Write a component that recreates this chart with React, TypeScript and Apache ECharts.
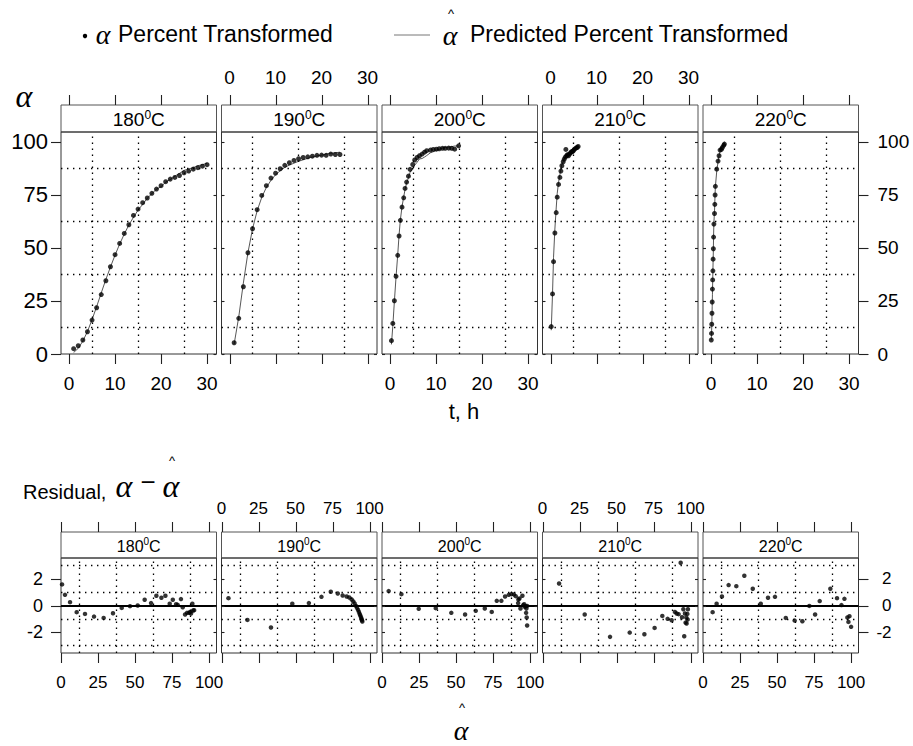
import React, { useEffect, useRef } from "react";
import * as echarts from "echarts";

// ---------------- data ----------------
const temperatures = ["180", "190", "200", "210", "220"];

const hours180 = [1, 2, 3, 4, 5, 6, 7, 8, 9, 10, 11, 12, 13, 14, 15, 16, 17, 18, 19, 20, 21, 22, 23, 24, 25, 26, 27, 28, 29, 30];
const observed180 = [2.5, 3.9, 6.6, 10.5, 16, 21.8, 28, 34.5, 41.1, 46.8, 52.1, 56.8, 60.9, 65.3, 68.3, 71.3, 73.5, 75.7, 77.7, 79.3, 81.2, 82.4, 83.2, 84.1, 85.4, 86.2, 87.1, 87.8, 88.5, 89.2];
const fitted180 = [0.7, 2.7, 6.1, 10.6, 16.2, 22.3, 28.8, 35.1, 41, 46.6, 51.8, 56.5, 60.8, 64.4, 67.8, 70.5, 73.4, 75.5, 77.7, 78.8, 81, 82.2, 83.8, 85.1, 86.5, 87.2, 87.8, 88.7, 89.2, 89.9];
const residual180 = [1.58, 0.8, 0.25, -0.5, -0.63, -0.83, -0.93, -0.58, -0.18, -0.05, 0, 0.43, 0.18, 0.73, 0.58, 0.73, 0.13, 0.43, 0.1, 0.05, 0.48, -0.13, -0.68, -0.55, -0.55, -0.48, -0.6, 0.13, -0.38, -0.35];

const hours190 = [1, 2, 3, 4, 5, 6, 7, 8, 9, 10, 11, 12, 13, 14, 15, 16, 17, 18, 19, 20, 21, 22, 23, 24];
const observed190 = [5.3, 16.8, 31.7, 47.7, 59, 68, 74.7, 79.3, 82.9, 85.2, 87.3, 88.9, 90.1, 91.2, 92, 92.6, 92.9, 93.2, 93.6, 93.7, 93.6, 94.2, 94, 94];
const fitted190 = [4.7, 17.5, 33.4, 47.8, 59, 67.5, 73.8, 78.5, 81.8, 84.5, 86.3, 87.9, 89, 89.9, 90.8, 91.5, 92.2, 92.8, 93.3, 93.7, 94.2, 94.6, 94.8, 95.1];
const residual190 = [0.55, -1.08, -1.65, 0.13, 0.18, 0.65, 1.03, 0.9, 0.75, 0.68, 0.6, 0.45, 0.3, 0.15, -0.03, -0.18, -0.33, -0.48, -0.63, -0.75, -0.88, -1.0, -1.1, -1.2];

const hours200 = [0.3, 0.6, 0.94, 1.3, 1.67, 1.96, 2.25, 2.6, 2.97, 3.26, 3.6, 4.0, 4.35, 4.93, 5.36, 5.87, 6.4, 6.96, 7.5, 7.97, 8.77, 9.4, 10.07, 10.7, 11.4, 12, 12.75, 13.4, 14.05, 14.9];
const observed200 = [6.3, 14.4, 25.1, 36.6, 46.5, 55.6, 63, 69.2, 73.6, 78, 81, 83.8, 87, 89.3, 91.4, 92.6, 93.4, 94.2, 95.1, 95.8, 96.1, 96.4, 96.5, 96.7, 96.9, 96.9, 97, 96.9, 96.5, 98.1];
const fitted200 = [4.5, 13.1, 24.8, 36.3, 46.8, 56.1, 63.3, 69.4, 74.1, 77.5, 80.6, 83.1, 85.6, 87.4, 89, 90.3, 91.9, 92.1, 92.8, 93.5, 94.8, 95.3, 96, 96.4, 97.1, 97.3, 97.5, 97.7, 98, 98];
const residual200 = [1.08, 0.85, -0.25, -0.2, -0.55, -0.68, -0.4, -0.23, -0.48, 0.35, 0.35, 0.68, 0.8, 0.85, 0.83, 0.7, 0.18, 0.45, 0.53, -0.23, 0.73, 0.03, 0.1, -0.1, -0.05, -0.55, -0.23, -0.9, -0.03, -1.5];

const hours210 = [0.15, 0.43, 0.65, 0.94, 1.23, 1.45, 1.74, 2.03, 2.25, 2.46, 2.75, 2.97, 3.2, 3.33, 3.5, 3.7, 3.9, 4.13, 4.35, 4.57, 4.78, 5.0, 5.2, 5.5, 5.8, 6.0];
const observed210 = [12.9, 28.3, 43.5, 57, 66.6, 73.9, 79.9, 83.2, 86.2, 88.7, 90.6, 91.8, 92.8, 96.4, 93.4, 93.9, 93.4, 94.2, 94.8, 95.3, 95.4, 95.9, 96.5, 97, 97.3, 97.8];
const fitted210 = [11.2, 28.5, 45.6, 58.9, 68.8, 75.7, 80.9, 84.5, 87.2, 89.4, 90.6, 91.9, 92.6, 93.3, 94.2, 94.6, 95.1, 95.5, 95.9, 96.2, 96.6, 97.0, 97.3, 97.6, 97.9, 98.2];
const resFitted210 = [11.2, 28.5, 45.6, 58.9, 68.8, 75.7, 80.9, 84.5, 87.2, 89.4, 90.6, 91.9, 93.3, 94.2, 95.1, 95.7, 96.2, 96.6, 97.1, 97.3, 97.8, 98, 98.2];
const residual210 = [1.65, -0.68, -2.35, -2.03, -2.15, -1.68, -0.78, -1.0, -1.1, -0.48, -0.6, -0.65, 3.2, -0.88, -0.28, -2.3, -0.6, -1.28, -0.9, -1.35, -0.63, -1.05, -0.28];

const hours220 = [0.05, 0.1, 0.15, 0.2, 0.25, 0.3, 0.35, 0.4, 0.45, 0.5, 0.55, 0.62, 0.75, 0.82, 0.88, 0.94, 1.23, 1.52, 1.74, 1.96, 2.25, 2.46, 2.75, 2.9];
const observed220 = [6.6, 9.7, 14, 19.2, 24.5, 30.6, 34.9, 39.2, 44.7, 49.6, 55.1, 61.2, 66.2, 70.5, 74.9, 79, 87.1, 90.9, 93.4, 96.1, 96.4, 97.3, 98.3, 98.9];
const fitted220 = [6.5, 9.2, 12.8, 17.3, 22.5, 27.9, 33.6, 39, 43.9, 48.6, 55.9, 61.9, 67.1, 71.8, 75.7, 78.8, 86, 90.5, 93.5, 95.5, 97.5, 98.2, 98.9, 100];
const residual220 = [-0.5, 0.13, 0.68, 1.53, 1.45, 2.23, 1.25, 0.13, 0.58, 0.65, -0.93, -1.13, -1.18, -0.03, -0.68, 0.33, 1.25, 0.55, 0.03, 0.5, -0.9, -1.23, -0.8, -1.6];

// axis ticks and reference grid values
const hourTicks = [0, 10, 20, 30];
const hourGrid = [5, 15, 25];
const alphaTicks = [0, 25, 50, 75, 100];
const alphaGrid = [12.5, 37.5, 62.5, 87.5];
const fittedTicks = [0, 25, 50, 75, 100];
const fittedGrid = [12.5, 37.5, 62.5, 87.5];
const residualTicks = [-2, 0, 2];
const residualGrid = [-3, -1, 1, 3];

const panels = [
  { temp: temperatures[0], hours: hours180, observed: observed180, fitted: fitted180, resFitted: fitted180, residual: residual180 },
  { temp: temperatures[1], hours: hours190, observed: observed190, fitted: fitted190, resFitted: fitted190, residual: residual190 },
  { temp: temperatures[2], hours: hours200, observed: observed200, fitted: fitted200, resFitted: fitted200, residual: residual200 },
  { temp: temperatures[3], hours: hours210, observed: observed210, fitted: fitted210, resFitted: resFitted210, residual: residual210 },
  { temp: temperatures[4], hours: hours220, observed: observed220, fitted: fitted220, resFitted: fitted220, residual: residual220 },
];

// ---------------- layout ----------------
const FONT = '"Liberation Sans", Arial, Helvetica, sans-serif';
const GREEK = '"Liberation Serif", "DejaVu Serif", serif';
const PX0 = 61;
const STEP = 160.5;
const PW = 155.5;
const TOP_Y = 132;
const TOP_H = 222;
const STRIP_H = 27;
const BOT_Y = 558;
const BOT_H = 95;
const BSTRIP_H = 26;
const TICK_COLOR = "#222";

function buildOption() {
  const grid: any[] = [];
  const xAxis: any[] = [];
  const yAxis: any[] = [];
  const series: any[] = [];
  const graphic: any[] = [];

  const dotted = { color: "#000", type: [1.4, 4.6], width: 1.3 };

  const mkX = (gi: number, pos: string, min: number, max: number, ticks: number[], showLabel: boolean, margin: number, fontSize: number, offset: number) => ({
    gridIndex: gi,
    type: "value",
    position: pos,
    offset,
    min,
    max,
    axisLine: { show: false, onZero: false },
    splitLine: { show: false },
    axisTick: { show: false },
    axisLabel: { show: showLabel, customValues: ticks, margin, fontSize, color: "#000", fontFamily: FONT },
  });

  const mkY = (gi: number, pos: string, min: number, max: number, ticks: number[], outer: boolean, label: any) => ({
    gridIndex: gi,
    type: "value",
    position: pos,
    min,
    max,
    axisLine: { show: false, onZero: false },
    splitLine: { show: false },
    axisTick: { show: false },
    axisLabel: outer
      ? Object.assign({ show: true, customValues: ticks, color: "#000", fontFamily: FONT }, label)
      : { show: false },
  });

  // tick marks drawn through the panel's own scales (custom series, unclipped)
  const tickSeries = (axisIndex: number, side: string, values: number[], xr: number[], yr: number[], len: number, shift: number) => ({
    type: "custom",
    xAxisIndex: axisIndex,
    yAxisIndex: axisIndex,
    silent: true,
    clip: false,
    z: 6,
    data: values.map((v) => (side === "bottom" || side === "top" ? [v, yr[0]] : [xr[0], v])),
    renderItem: (params: any, api: any) => {
      let x1 = 0, y1 = 0, x2 = 0, y2 = 0;
      if (side === "bottom" || side === "top") {
        const p = api.coord([api.value(0), side === "bottom" ? yr[0] : yr[1]]);
        x1 = x2 = Math.round(p[0]) + 0.5;
        if (side === "bottom") { y1 = p[1] + shift; y2 = y1 + len; }
        else { y1 = p[1] - shift; y2 = y1 - len; }
      } else {
        const p = api.coord([side === "left" ? xr[0] : xr[1], api.value(1)]);
        y1 = y2 = Math.round(p[1]) + 0.5;
        x1 = p[0];
        x2 = side === "left" ? x1 - len : x1 + len;
      }
      return { type: "line", shape: { x1, y1, x2, y2 }, style: { stroke: TICK_COLOR, lineWidth: 1.1 } };
    },
  });

  const stripText = (temp: string) => `{a|${temp}}{s|0}{a|C}`;

  // ---- top panels (grids 0..4) ----
  const TX = [-1.75, 32.05];
  const TY = [0, 104.6];
  panels.forEach((p, i) => {
    const left = PX0 + i * STEP;
    const gi = i;
    grid.push({ left, top: TOP_Y, width: PW, height: TOP_H, show: true, borderColor: "#333", borderWidth: 1, backgroundColor: "transparent" });
    xAxis.push(mkX(gi, "bottom", TX[0], TX[1], hourTicks, i % 2 === 0, 20, 19, 0));
    xAxis.push(mkX(gi, "top", TX[0], TX[1], hourTicks, i % 2 === 1, 18, 19, STRIP_H));
    yAxis.push(mkY(gi, "left", TY[0], TY[1], alphaTicks, i === 0, { margin: 13, fontSize: 22 }));
    yAxis.push(mkY(gi, "right", TY[0], TY[1], alphaTicks, i === 4, { margin: 19, fontSize: 19 }));
    series.push({
      type: "line",
      xAxisIndex: 2 * gi,
      yAxisIndex: 2 * gi,
      data: p.hours.map((t, k) => [t, p.fitted[k]]),
      symbol: "none",
      lineStyle: { color: "#444", width: 0.9 },
      silent: true,
      z: 3,
      markLine: {
        silent: true,
        symbol: ["none", "none"],
        label: { show: false },
        lineStyle: dotted,
        animation: false,
        data: [...hourGrid.map((v) => ({ xAxis: v })), ...alphaGrid.map((v) => ({ yAxis: v }))],
      },
    });
    series.push({
      type: "scatter",
      xAxisIndex: 2 * gi,
      yAxisIndex: 2 * gi,
      data: p.hours.map((t, k) => [t, p.observed[k]]),
      symbol: "circle",
      symbolSize: 5,
      itemStyle: { color: "#000" },
      silent: true,
      z: 4,
    });
    series.push(tickSeries(2 * gi, "bottom", hourTicks, TX, TY, 10, 0));
    series.push(tickSeries(2 * gi, "top", hourTicks, TX, TY, 10, STRIP_H));
    series.push(tickSeries(2 * gi, "left", alphaTicks, TX, TY, i === 0 ? 10 : -3, 0));
    series.push(tickSeries(2 * gi, "right", alphaTicks, TX, TY, i === 4 ? 10 : -3, 0));
    graphic.push({ type: "rect", shape: { x: left, y: TOP_Y - STRIP_H, width: PW, height: STRIP_H }, style: { fill: "#fff", stroke: "#555", lineWidth: 1 }, z: -1 });
    graphic.push({
      type: "text",
      x: left + PW / 2,
      y: TOP_Y - STRIP_H / 2 + 1,
      style: {
        text: stripText(p.temp),
        align: "center",
        verticalAlign: "middle",
        rich: {
          a: { fontSize: 19, fontFamily: FONT, fill: "#000", lineHeight: 22 },
          s: { fontSize: 12, fontFamily: FONT, fill: "#000", verticalAlign: "top", lineHeight: 22 },
        },
      },
      z: 2,
    });
  });

  // ---- residual panels (grids 5..9) ----
  const BX = [0, 105];
  const BY = [-3.56, 3.56];
  panels.forEach((p, i) => {
    const left = PX0 + i * STEP;
    const bi = 5 + i;
    grid.push({ left, top: BOT_Y, width: PW, height: BOT_H, show: true, borderColor: "#333", borderWidth: 1, backgroundColor: "transparent" });
    xAxis.push(mkX(bi, "bottom", BX[0], BX[1], fittedTicks, i % 2 === 0, 20.5, 17, 0));
    xAxis.push(mkX(bi, "top", BX[0], BX[1], fittedTicks, i % 2 === 1, 15.5, 17, BSTRIP_H));
    yAxis.push(mkY(bi, "left", BY[0], BY[1], residualTicks, i === 0, { margin: 18, fontSize: 18 }));
    yAxis.push(mkY(bi, "right", BY[0], BY[1], residualTicks, i === 4, { margin: 33, fontSize: 17, align: "right" }));
    series.push({
      type: "scatter",
      xAxisIndex: 2 * bi,
      yAxisIndex: 2 * bi,
      data: p.resFitted.map((f, k) => [f, p.residual[k]]),
      symbol: "circle",
      symbolSize: 4.5,
      itemStyle: { color: "#000" },
      silent: true,
      z: 4,
      markLine: {
        silent: true,
        symbol: ["none", "none"],
        label: { show: false },
        lineStyle: dotted,
        animation: false,
        data: [
          ...fittedGrid.map((v) => ({ xAxis: v })),
          ...residualGrid.map((v) => ({ yAxis: v })),
          { yAxis: 0, lineStyle: { type: "solid", color: "#000", width: 1.8 } },
        ],
      },
    });
    series.push(tickSeries(2 * bi, "bottom", fittedTicks, BX, BY, 10, 0));
    series.push(tickSeries(2 * bi, "top", fittedTicks, BX, BY, 10, BSTRIP_H));
    series.push(tickSeries(2 * bi, "left", residualTicks, BX, BY, i === 0 ? 10 : -3, 0));
    series.push(tickSeries(2 * bi, "right", residualTicks, BX, BY, i === 4 ? 10 : -3, 0));
    graphic.push({ type: "rect", shape: { x: left, y: BOT_Y - BSTRIP_H, width: PW, height: BSTRIP_H }, style: { fill: "#fff", stroke: "#555", lineWidth: 1 }, z: -1 });
    graphic.push({
      type: "text",
      x: left + PW / 2,
      y: BOT_Y - BSTRIP_H / 2 + 1,
      style: {
        text: stripText(p.temp),
        align: "center",
        verticalAlign: "middle",
        rich: {
          a: { fontSize: 16, fontFamily: FONT, fill: "#000", lineHeight: 19 },
          s: { fontSize: 10, fontFamily: FONT, fill: "#000", verticalAlign: "top", lineHeight: 19 },
        },
      },
      z: 2,
    });
  });

  // ---- legend & titles ----
  const txt = (x: number, y: number, text: string, size: number, opts: any = {}) => ({
    type: "text",
    x,
    y,
    z: 5,
    style: Object.assign({ text, fontSize: size, fontFamily: FONT, fill: "#000", align: "left", verticalAlign: "middle" }, opts),
  });
  const greek = (x: number, y: number, size: number) => txt(x, y, "α", size, { fontFamily: GREEK, fontStyle: "italic", align: "center" });

  graphic.push({ type: "circle", shape: { cx: 85, cy: 36, r: 2.2 }, style: { fill: "#000" }, z: 5 });
  graphic.push(greek(103, 34, 28));
  graphic.push(txt(118, 34, "Percent Transformed", 23));
  graphic.push({ type: "line", shape: { x1: 394, y1: 35, x2: 430, y2: 35 }, style: { stroke: "#777", lineWidth: 1 }, z: 5 });
  graphic.push(greek(450, 35, 28));
  graphic.push(txt(451, 13, "^", 13, { align: "center" }));
  graphic.push(txt(470, 34, "Predicted Percent Transformed", 23));

  graphic.push(greek(24, 96, 32));
  graphic.push(txt(464, 411, "t, h", 22, { align: "center" }));

  graphic.push(txt(23, 492, "Residual,", 20));
  graphic.push(greek(124, 486, 32));
  graphic.push(txt(148, 482, "−", 26, { align: "center" }));
  graphic.push(greek(171, 486, 32));
  graphic.push(txt(172, 460, "^", 13, { align: "center" }));

  graphic.push(greek(461, 730, 28));
  graphic.push(txt(462, 707, "^", 13, { align: "center" }));

  return {
    animation: false,
    backgroundColor: "#fff",
    textStyle: { fontFamily: FONT },
    grid,
    xAxis,
    yAxis,
    series,
    graphic,
  };
}

export default function App() {
  const ref = useRef<HTMLDivElement>(null);
  useEffect(() => {
    if (!ref.current) return;
    const chart = echarts.init(ref.current, undefined, { renderer: "svg" });
    chart.setOption(buildOption() as any);
    return () => chart.dispose();
  }, []);
  return <div ref={ref} style={{ position: "fixed", left: 0, top: 0, width: 913, height: 746, background: "#fff" }} />;
}
